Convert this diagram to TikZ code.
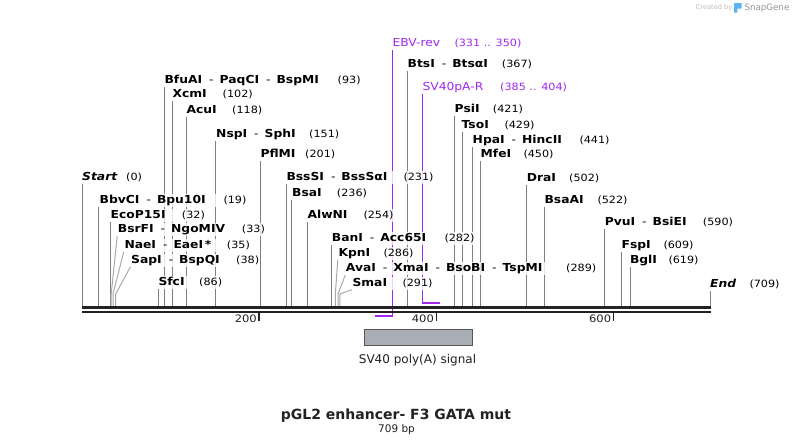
\documentclass[tikz,border=0pt]{standalone}
\usepackage{fontspec}
\setmainfont{DejaVu Sans}
\newfontfamily\enzfont{DejaVu Sans}[FakeStretch=1.12]
\usetikzlibrary{calc}
\pgfdeclarelayer{bg}
\pgfsetlayers{bg,main}
\definecolor{primerc}{RGB}{160,40,240}
\definecolor{siteg}{RGB}{128,128,128}
\definecolor{sitelt}{RGB}{170,170,170}
\definecolor{seqc}{RGB}{34,34,34}
\definecolor{featfill}{RGB}{169,174,182}
\definecolor{featdraw}{RGB}{85,85,85}
\definecolor{logoc}{RGB}{90,180,240}
\definecolor{logotxt}{RGB}{190,190,190}
\definecolor{logotxtb}{RGB}{150,150,150}
\newcommand{\sepr}{\hspace{7pt}{\mdseries-}\hspace{6pt}}
\newcommand{\enznum}[1]{{\mdseries\fontsize{10}{12}\selectfont#1}}
\newcommand{\enzlab}[6]{\node[enzlab] (#1) at ({#2-0.5},{#3+4}) {\makebox[\dimexpr#5pt-#2pt\relax][l]{#4}\enznum{#6}};}
\tikzset{
  enzlab/.style={anchor=base west, font=\enzfont\fontsize{11}{13}\selectfont\bfseries, fill=white, fill opacity=0.8, text opacity=1, inner xsep=0.5pt, inner ysep=1pt, text height=8.5pt, text depth=2.5pt},
  primerlab/.style={enzlab, font=\enzfont\fontsize{11}{13}\selectfont, text=primerc},
  siteline/.style={draw=siteg, line width=1pt},
  anglesite/.style={draw=sitelt, line width=1pt},
  primerv/.style={draw=primerc, line width=1.3pt},
  primerh/.style={draw=primerc, line width=2pt},
  seqtop/.style={draw=seqc, line width=2.7pt},
  seqbot/.style={draw=seqc, line width=2pt},
  tickmark/.style={draw=seqc, line width=1.6pt},
  ticklab/.style={anchor=base east, font=\enzfont\fontsize{10.3}{12}\selectfont, text=seqc, inner sep=0pt},
  feature/.style={draw=featdraw, fill=featfill, line width=0.8pt, minimum width=108pt, minimum height=16pt, inner sep=0pt},
  featlab/.style={anchor=base, font=\fontsize{12}{14}\selectfont, text=seqc, inner sep=0pt},
  titlelab/.style={anchor=base, font=\fontsize{14}{16}\selectfont\bfseries, text=seqc, inner sep=0pt},
  sublab/.style={anchor=base, font=\fontsize{10.5}{12}\selectfont, text=seqc, inner sep=0pt},
}
\begin{document}
\begin{tikzpicture}[x=1pt,y=-1pt]
\useasboundingbox (0,0) rectangle (793,445);

% site coordinates on the top of the sequence line
\foreach \n/\x in {0/82,19/98.8,32/110.3,33/111.2,35/113.0,38/115.7,86/158.2,93/164.4,102/172.3,118/186.5,151/215.7,201/260.0,231/286.6,236/291.0,254/307.0,282/331.8,286/335.3,289/338.0,291/339.8,367/407.1,421/454.9,429/462.0,441/472.6,450/480.6,502/526.6,522/544.4,590/604.6,609/621.4,619/630.3,709/710.5}
  \coordinate (s\n) at (\x,306);

% enzyme labels
\enzlab{L0}{82}{176.5}{\textit{Start}}{126}{(0)}
\enzlab{L93}{164.4}{79}{BfuAI\sepr PaqCI\sepr BspMI}{337.5}{(93)}
\enzlab{L102}{172.3}{93}{XcmI}{222.5}{(102)}
\enzlab{L118}{186.3}{109}{AcuI}{232}{(118)}
\enzlab{L151}{216}{133}{NspI\sepr SphI}{309}{(151)}
\enzlab{L201}{260.3}{153}{PflMI}{305}{(201)}
\enzlab{L231}{286.3}{176.5}{BssSI\sepr BssSαI}{403.3}{(231)}
\enzlab{L236}{292}{192}{BsaI}{336.7}{(236)}
\enzlab{L254}{307.3}{214}{AlwNI}{363.3}{(254)}
\enzlab{L19}{99.5}{199}{BbvCI\sepr Bpu10I}{223.3}{(19)}
\enzlab{L32}{110.5}{214}{EcoP15I}{181.7}{(32)}
\enzlab{L33}{117.7}{228.5}{BsrFI\sepr NgoMIV}{241.7}{(33)}
\enzlab{L35}{124.3}{244}{NaeI\sepr EaeI\,*}{226.7}{(35)}
\enzlab{L38}{131}{259}{SapI\sepr BspQI}{236}{(38)}
\enzlab{L86}{158.3}{281}{SfcI}{199}{(86)}
\enzlab{L282}{331.7}{237}{BanI\sepr Acc65I}{444.3}{(282)}
\enzlab{L286}{338.3}{252}{KpnI}{383.3}{(286)}
\enzlab{L289}{345.7}{267.5}{AvaI\sepr XmaI\sepr BsoBI\sepr TspMI}{566}{(289)}
\enzlab{L291}{352.3}{282}{SmaI}{402.3}{(291)}
\enzlab{L367}{407.5}{63.5}{BtsI\sepr BtsαI}{501.7}{(367)}
\enzlab{L421}{454.5}{108.5}{PsiI}{492.7}{(421)}
\enzlab{L429}{461.5}{124}{TsoI}{504.3}{(429)}
\enzlab{L441}{472.5}{139}{HpaI\sepr HincII}{579.3}{(441)}
\enzlab{L450}{480.5}{153.5}{MfeI}{523.3}{(450)}
\enzlab{L502}{526.6}{177}{DraI}{569}{(502)}
\enzlab{L522}{544.4}{199.5}{BsaAI}{597.3}{(522)}
\enzlab{L590}{604.6}{221.5}{PvuI\sepr BsiEI}{702.7}{(590)}
\enzlab{L609}{621.4}{244}{FspI}{663.3}{(609)}
\enzlab{L619}{629.8}{259.5}{BglI}{668.3}{(619)}
\enzlab{L709}{710}{283}{\textit{End}}{749.3}{(709)}

% primer labels
\node[primerlab] (ebv) at (391.8,46) {\makebox[\dimexpr454.3pt-392.3pt\relax][l]{EBV-rev}\enznum{(331 .. 350)}};
\node[primerlab] (sv40r) at (421.8,90.5) {\makebox[\dimexpr500pt-422.3pt\relax][l]{SV40pA-R}\enznum{(385 .. 404)}};
\coordinate (ebvR) at (392.3,316);
\coordinate (ebvL) at (374.5,316);
\coordinate (svL) at (422.3,302.5);
\coordinate (svR) at (439.5,302.5);

\begin{pgfonlayer}{bg}
  \fill[white] (0,0) rectangle (793,445);
  \foreach \n in {0,93,102,118,151,201,231,236,254,19,32,86,282,367,421,429,441,450,502,522,590,609,619,709}
    \draw[siteline] (s\n |- L\n.south) -- (s\n);
  \foreach \n in {33,35,38,286,289,291}
    \draw[anglesite] (L\n.south west) -- ($(s\n)+(0,-12)$) -- (s\n);
  \draw[primerv] (ebvR |- ebv.south) -- (ebvR);
  \draw[primerh] (ebvL) -- ([xshift=0.65pt]ebvR);
  \draw[primerv] (svL |- sv40r.south) -- (svL);
  \draw[primerh] ([xshift=-0.65pt]svL) -- (svR);
\end{pgfonlayer}

% sequence line
\coordinate (seqA) at (82,307.35);
\coordinate (seqB) at (711,307.35);
\coordinate (seqC) at (82,311.7);
\coordinate (seqD) at (711,311.7);
\draw[seqtop] (seqA) -- (seqB);
\draw[seqbot] (seqC) -- (seqD);

% ticks
\foreach \p/\x in {200/259.2,400/436.3,600/613.5} {
  \draw[tickmark] (\x,312.7) -- (\x,320.5);
  \node[ticklab] (t\p) at (\x-2.2,322.7) {\p};
}

% feature
\node[feature] (polyA) at (418.3,337.3) {};
\node[featlab] (polyAlab) at (417.5,363.2) {SV40 poly(A) signal};

% title
\node[titlelab] (title) at (396,419.1) {pGL2 enhancer- F3 GATA mut};
\node[sublab] (len) at (396.5,432.8) {709 bp};

% credit
\node[anchor=base west, font=\fontsize{6.6}{8}\selectfont, text=logotxt, inner sep=0pt] (created) at (695.7,9.5) {Created by};
\fill[logoc] (734,3) -- (741.5,3) -- (741.5,8.5) -- (737.3,8.5) -- (737.3,12.5) -- (734,12.5) -- cycle;
\node[anchor=base west, font=\fontsize{8.7}{10}\selectfont, text=logotxtb, inner sep=0pt] (snapgene) at (744.3,10.8) {SnapGene};
\end{tikzpicture}
\end{document}
